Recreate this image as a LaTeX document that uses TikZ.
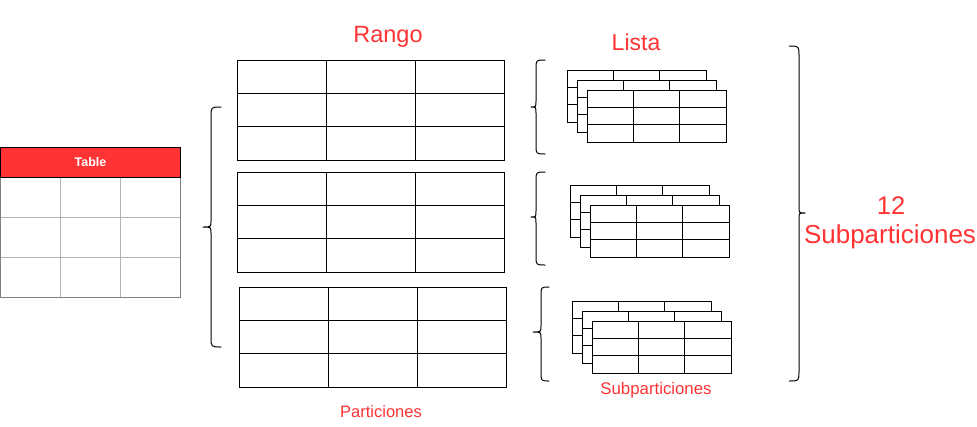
\documentclass[tikz,border=0pt]{standalone}
\usepackage{fontspec}
\setmainfont{Liberation Sans}
\usetikzlibrary{calc}
\definecolor{dred}{HTML}{FF3333}
\definecolor{gout}{HTML}{808080}
\definecolor{ginn}{HTML}{B3B3B3}
\tikzset{
  tblbox/.style={draw=black, line width=1pt, fill=white, inner sep=0pt, outer sep=0pt, anchor=north west},
  gridline/.style={draw=black, line width=1pt},
  bracepath/.style={draw=black, line width=1pt, line cap=round, line join=round},
  lbl/.style={text=dred, inner sep=0pt, anchor=base},
}
\newcommand{\gtbl}[5]{%
  \node[tblbox, minimum width=#4pt, minimum height=#5pt] (#1) at (#2,#3) {};
  \foreach \f in {0.33333,0.66667}{%
    \draw[gridline] ($(#1.north west)!\f!(#1.south west)$) -- ($(#1.north east)!\f!(#1.south east)$);
    \draw[gridline] ($(#1.north west)!\f!(#1.north east)$) -- ($(#1.south west)!\f!(#1.south east)$);
  }%
}
% end x, spine x, tip x, top, bottom, mid, radius
\newcommand{\mybrace}[7]{%
  \draw[bracepath] (#1,#4) .. controls (#2,#4) .. (#2,#4+#7) -- (#2,#6-6)
    .. controls (#2,#6) .. (#3,#6) .. controls (#2,#6) .. (#2,#6+6)
    -- (#2,#5-#7) .. controls (#2,#5) .. (#1,#5);
}
\begin{document}
\begin{tikzpicture}[x=1pt,y=-1pt]
\useasboundingbox (0,0) rectangle (977,426);
\fill[white] (0,0) rectangle (977,426);

% source table
\node[draw=gout, line width=1pt, fill=white, inner sep=0pt, outer sep=0pt, anchor=north west,
      minimum width=180pt, minimum height=120pt] (srcb) at (0.5,177) {};
\foreach \f in {0.33333,0.66667}{%
  \draw[ginn, line width=1pt] ($(srcb.north west)!\f!(srcb.south west)$) -- ($(srcb.north east)!\f!(srcb.south east)$);
  \draw[ginn, line width=1pt] ($(srcb.north west)!\f!(srcb.north east)$) -- ($(srcb.south west)!\f!(srcb.south east)$);
}
\draw[gout, line width=1pt] (srcb.north west) rectangle (srcb.south east);
\node[draw=black, line width=1pt, fill=dred, inner sep=0pt, outer sep=0pt, anchor=north west,
      minimum width=180pt, minimum height=30pt, text=white, font=\bfseries\fontsize{12.5}{14}\selectfont] (srch) at (0.5,147) {Table};

% range partitions
\gtbl{r1}{237}{60}{267}{100}
\gtbl{r2}{237}{172}{267}{100}
\gtbl{r3}{239}{287}{267}{100}

% list subpartitions, group 1
\gtbl{la1}{567}{70}{139}{52}
\gtbl{la2}{577}{80}{139}{52}
\gtbl{la3}{587}{90}{139}{52}
% group 2
\gtbl{lb1}{570}{185}{139}{52}
\gtbl{lb2}{580}{195}{139}{52}
\gtbl{lb3}{590}{205}{139}{52}
% group 3
\gtbl{lc1}{572}{301}{139}{52}
\gtbl{lc2}{582}{311}{139}{52}
\gtbl{lc3}{592}{321}{139}{52}

% braces
\mybrace{221}{211}{203}{107}{347}{227}{10}
\mybrace{545}{536}{531}{60}{154}{107}{9}
\mybrace{545}{536}{531}{172}{265}{217}{9}
\mybrace{549}{541}{533}{287}{381}{332}{9}
\mybrace{789}{799}{805}{46}{381}{213}{10}

% labels
\node[lbl, font=\fontsize{23.5}{26}\selectfont] (rango) at (388,42) {Rango};
\node[lbl, font=\fontsize{23}{26}\selectfont] (lista) at (636,50) {Lista};
\node[lbl, font=\fontsize{16.5}{20}\selectfont] (parts) at (381,417) {Particiones};
\node[lbl, font=\fontsize{16.8}{20}\selectfont] (subs) at (656,394) {Subparticiones};
\node[lbl, font=\fontsize{25.5}{30}\selectfont] (twelve) at (891,214) {12};
\node[lbl, font=\fontsize{26}{30}\selectfont] (bigsubs) at (890,243) {Subparticiones};
\end{tikzpicture}
\end{document}
